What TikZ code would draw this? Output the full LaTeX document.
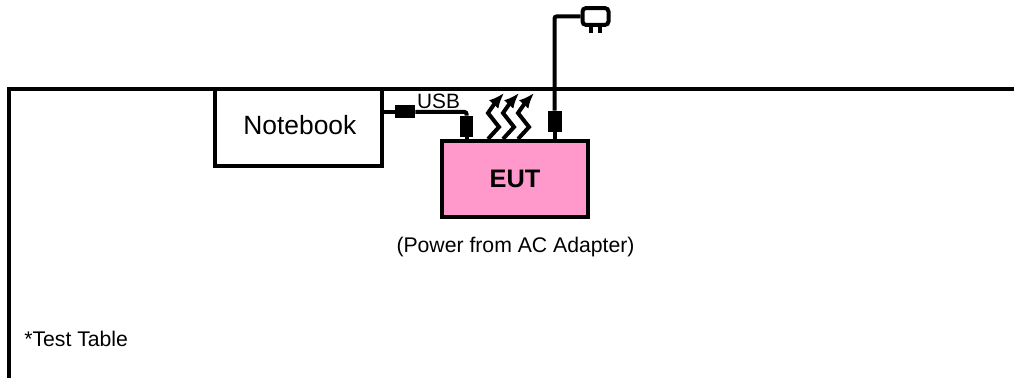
\documentclass[tikz,border=0pt]{standalone}
\usepackage{fontspec}
\setmainfont{Liberation Sans}
\usetikzlibrary{arrows.meta}
\definecolor{eutc}{HTML}{FF99CC}

\begin{document}
\begin{tikzpicture}[x=0.75pt, y=-0.75pt, line join=miter,
    boxc/.style={draw=black, line width=3pt, inner sep=0pt, minimum width=125.25pt, minimum height=57.75pt},
    corec/.style={fill=black, draw=none, inner sep=0pt},
    cable/.style={draw=black, line width=3pt, rounded corners=1.5pt}]
    \useasboundingbox (0,0) rectangle (1014,378);
    % table edge runs off the page
    \coordinate (tl) at (9,89);
    \coordinate (tr) at (1014,89);
    \coordinate (bl) at (9,378);
    \draw[line width=3pt] (bl) -- (tl) -- (tr);
    \node[boxc, fill=white] (book) at (298.5,127.5) {\hspace{2pt}\raisebox{4.5pt}{\fontsize{19.8pt}{22pt}\selectfont Notebook}};
    \node[boxc, fill=eutc, minimum width=109.5pt, minimum height=57pt] (eut) at (515,179) {\fontsize{19pt}{22pt}\selectfont\bfseries EUT};
    \node[anchor=north, font=\fontsize{15.9pt}{18pt}\selectfont, inner sep=0pt] (psu) at (515.5,237) {(Power from AC Adapter)};
    \node[anchor=west, font=\fontsize{15.9pt}{18pt}\selectfont, inner sep=0pt] (tbl) at (24,339) {*Test Table};
    \node[anchor=south, font=\fontsize{15.6pt}{16pt}\selectfont, inner sep=0pt] (usb) at (438.5,109) {USB};
    \node[corec, minimum width=15pt, minimum height=9.75pt] (usbcore) at (405,112) {};
    \node[corec, minimum width=9.75pt, minimum height=15.75pt] (eutcore) at (466.5,126.5) {};
    \node[corec, minimum width=10.5pt, minimum height=15.75pt] (accore) at (554.5,121.5) {};
    \node[draw=black, line width=3pt, rounded corners=2.5pt, inner sep=0pt, minimum width=19.5pt, minimum height=12.5pt] (adapter) at (595.5,16.5) {};
    \draw[line width=2.5pt] (591,25) -- (591,33.5);
    \draw[line width=2.5pt] (600,25) -- (600,33.5);
    \draw[cable] (book.east |- usbcore) -- (usbcore);
    \draw[cable] (usbcore) -- (usbcore -| eutcore) -- (eutcore);
    \draw[cable] (eutcore) -- (eutcore |- eut.north);
    \draw[cable] (eut.north -| accore) -- (accore);
    \draw[cable] (accore) -- (accore |- adapter) -- (adapter);
    % heat
    \foreach \x in {0,15,30}
      \draw[line width=3pt, -{Latex[length=11.5pt, width=9.5pt]}] (488+\x,139) -- (499+\x,127) -- (488+\x,113) -- (495+\x,103) -- (504+\x,93);
\end{tikzpicture}
\end{document}
